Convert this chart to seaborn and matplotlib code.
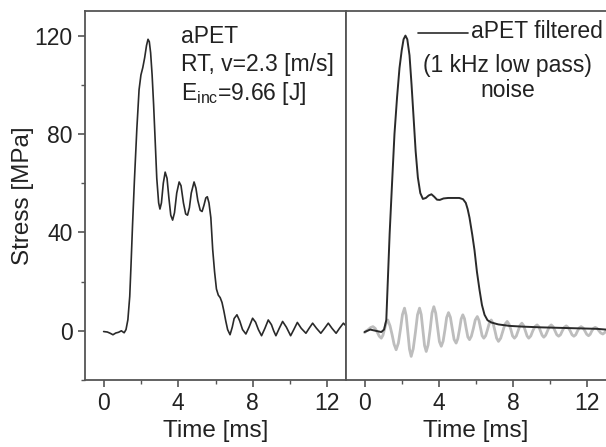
import matplotlib
matplotlib.use("Agg")
import matplotlib.pyplot as plt
import seaborn as sns
import pandas as pd
from matplotlib.ticker import MultipleLocator

# ---- data ----
t_raw = [0.0, 0.2, 0.35, 0.5, 0.65, 0.8, 0.95, 1.1, 1.2, 1.3, 1.4, 1.47, 1.55, 1.65, 1.78, 1.9, 2.0, 2.1,
         2.2, 2.3, 2.38, 2.45, 2.52, 2.6, 2.68, 2.76, 2.85, 2.95, 3.02, 3.1, 3.2, 3.3, 3.4, 3.5, 3.6, 3.7,
         3.8, 3.92, 4.05, 4.15, 4.28, 4.4, 4.5, 4.6, 4.7, 4.85, 4.95, 5.05, 5.18, 5.28, 5.38, 5.48, 5.56,
         5.65, 5.75, 5.85, 5.95, 6.05, 6.15, 6.25, 6.35, 6.45, 6.55, 6.65, 6.78, 6.9, 7.0, 7.15, 7.3, 7.45,
         7.63, 7.8, 7.99, 8.15, 8.3, 8.47, 8.65, 8.83, 9.0, 9.12, 9.24, 9.42, 9.6, 9.8, 10.03, 10.2, 10.39,
         10.6, 10.85, 11.02, 11.21, 11.42, 11.65, 11.85, 12.05, 12.25, 12.47, 12.65, 12.86, 13.0]
s_raw = [-0.3, -0.5, -1.0, -1.6, -0.9, -0.6, 0.0, -0.8, 0.5, 4.5, 14, 27, 43, 61, 82, 98, 104, 107,
         111, 116, 118.5, 117.5, 113, 104, 92, 78, 62, 52, 49.5, 52, 60, 64.5, 62, 54, 47, 45,
         48, 56, 60.5, 59, 52, 47.5, 47, 50, 56, 60.5, 58, 53, 49, 48.5, 51, 54, 54.5,
         52, 46, 33, 24, 17, 14.5, 13.5, 11.5, 8, 4, 0.5, -1.6, 1.5, 5, 6.5, 4, 0.5,
         -1.3, 1.5, 5.1, 3.5, 0.5, -2, 1, 4.4, 2.5, 0, -2, 1, 3.8, 1.5, -2, 0.5, 3.4,
         1.0, -1.0, 1, 3.1, 1, -1, 1, 3.1, 1, -1, 1, 3.1, 2]

t_filt = [0.0, 0.3, 0.6, 0.9, 1.05, 1.17, 1.25, 1.35, 1.48, 1.61, 1.75, 1.88, 2.0, 2.1, 2.2, 2.3, 2.42,
          2.53, 2.64, 2.75, 2.87, 3.0, 3.14, 3.3, 3.45, 3.6, 3.75, 3.9, 4.05, 4.25, 4.5, 4.8, 5.1, 5.3,
          5.45, 5.55, 5.65, 5.8, 5.92, 6.05, 6.19, 6.32, 6.46, 6.62, 6.82, 7.2, 7.8, 8.5, 9.5, 10.5,
          11.5, 12.5, 13.0]
s_filt = [-0.5, 0.5, 0.0, -0.5, 0.5, 4.4, 20, 39.5, 60, 80, 95, 106.8, 114, 118.5, 120, 118.5, 112,
          100, 86.6, 73, 62.3, 56, 53.6, 54, 55, 55.5, 54.5, 53.3, 53.2, 53.8, 54, 54, 54, 53.5,
          52, 49.5, 46, 39, 32.7, 24, 16.6, 10.5, 6.5, 4.3, 3.4, 2.6, 2.0, 1.7, 1.4, 1.2,
          1.0, 0.8, 0.5]

t_noise = [0.0, 0.1, 0.2, 0.32, 0.45, 0.57, 0.68, 0.79, 0.9, 0.99, 1.07, 1.16, 1.25, 1.37, 1.48, 1.59,
           1.7, 1.82, 1.93, 2.04, 2.15, 2.24, 2.33, 2.42, 2.51, 2.62, 2.74, 2.85, 2.96, 3.05, 3.14,
           3.23, 3.32, 3.42, 3.53, 3.63, 3.73, 3.83, 3.93, 4.03, 4.13, 4.23, 4.33, 4.42, 4.52, 4.62,
           4.72, 4.82, 4.93, 5.02, 5.11, 5.2, 5.29, 5.38, 5.47, 5.56, 5.65, 5.75, 5.86, 5.96, 6.07,
           6.16, 6.25, 6.33, 6.42, 6.52, 6.62, 6.72, 6.82, 6.92, 7.02, 7.11, 7.21, 7.33, 7.45, 7.56,
           7.68, 7.78, 7.88, 7.97, 8.07, 8.17, 8.27, 8.37, 8.47, 8.56, 8.66, 8.75, 8.84, 8.95, 9.06,
           9.17, 9.29, 9.38, 9.47, 9.56, 9.65, 9.75, 9.85, 9.95, 10.05, 10.15, 10.25, 10.35, 10.45,
           10.55, 10.65, 10.75, 10.86, 10.96, 11.07, 11.17, 11.27, 11.37, 11.47, 11.56, 11.66, 11.76,
           11.86, 11.96, 12.06, 12.15, 12.24, 12.33, 12.42, 12.52, 12.62, 12.72, 12.83, 12.92, 13.0]
s_noise = [-0.7, 0.0, 0.5, 1.3, 1.7, 1.0, -0.5, -2.2, -3, -1.8, 0.5, 3.2, 4.4, 2.0, -1.5, -5.5,
           -7.7, -5.0, 0.5, 6.6, 9.2, 6.2, -0.5, -7.5, -10.4, -7.3, -0.5, 6.5, 9.2, 6.6, 0.5,
           -6.0, -8.4, -5.8, 0.5, 7.2, 9.8, 7.2, 1.5, -4.4, -6.3, -4.2, 0.5, 5.4, 7.4, 5.5,
           1, -3.5, -5, -3.2, 0.5, 4.8, 6.5, 4.9, 1, -2.5, -3.6, -2.2, 1, 4.4, 5.8,
           4.2, 1, -2.0, -3, -2.0, 0.5, 3.2, 4.4, 3.0, 0, -3.0, -4.3, -3.0, 0, 2.7,
           3.8, 2.7, 0.4, -2.1, -3, -2.1, 0, 2.2, 3.1, 2.2, 0, -2.1, -3, -2.1, 0,
           1.7, 2.4, 1.7, 0, -1.8, -2.6, -1.8, 0, 1.7, 2.4, 1.7, 0, -1.6, -2.2,
           -1.6, 0, 1.4, 2.0, 1.4, 0, -1.6, -2.2, -1.6, 0, 1.2, 1.7, 1.2,
           0, -1.4, -2.0, -1.4, 0, 1.0, 1.4, 1.0, 0, -0.9, -1.3, -0.8, 0]

x_ticks = [0, 4, 8, 12]
y_ticks = [0, 40, 80, 120]

# ---- style ----
sns.set_style("ticks")
plt.rcParams["font.family"] = ["Liberation Sans", "DejaVu Sans"]
plt.rcParams["mathtext.fontset"] = "custom"
plt.rcParams["mathtext.rm"] = "Liberation Sans"
plt.rcParams["mathtext.it"] = "Liberation Sans"

W, H = 606, 447
fig = plt.figure(figsize=(W / 100, H / 100), dpi=100)
ax1 = fig.add_axes([85 / W, 67 / H, 261 / W, 369 / H])
ax2 = fig.add_axes([346 / W, 67 / H, 260 / W, 369 / H])

spine_c = "#555555"
line_c = "#2a2a2a"
txt_c = "#222222"

df_raw = pd.DataFrame({"t": t_raw, "s": s_raw})
df_filt = pd.DataFrame({"t": t_filt, "s": s_filt})
df_noise = pd.DataFrame({"t": t_noise, "s": s_noise})

sns.lineplot(data=df_raw, x="t", y="s", ax=ax1, color=line_c, linewidth=1.2, estimator=None, sort=False)
sns.lineplot(data=df_noise, x="t", y="s", ax=ax2, color="#bdbdbd", linewidth=2.0, estimator=None, sort=False)
sns.lineplot(data=df_filt, x="t", y="s", ax=ax2, color=line_c, linewidth=1.4, estimator=None, sort=False)

for ax in (ax1, ax2):
    ax.set_xlim(-1, 13)
    ax.set_ylim(-20, 130)
    ax.set_xticks(x_ticks)
    ax.xaxis.set_minor_locator(MultipleLocator(2))
    ax.tick_params(axis="both", which="major", direction="out", length=5, width=1.2,
                   color=spine_c, labelsize=16.5, pad=4, labelcolor=txt_c)
    ax.tick_params(axis="both", which="minor", direction="out", length=3, width=1.0, color=spine_c)
    for sp in ax.spines.values():
        sp.set_color(spine_c)
        sp.set_linewidth(1.3)
    ax.set_xlabel("Time [ms]", fontsize=17.5, color=txt_c, labelpad=3)

ax1.set_yticks(y_ticks)
ax1.yaxis.set_minor_locator(MultipleLocator(20))
ax1.set_ylabel("Stress [MPa]", fontsize=17.5, color=txt_c, labelpad=0)

ax2.set_yticks([])
ax2.yaxis.set_minor_locator(plt.NullLocator())
ax2.set_ylabel("")
ax2.spines["right"].set_visible(False)

# annotations (pixel coords -> figure fraction)
def ftext(x, y, s, **kw):
    fig.text(x / W, 1 - y / H, s, va="baseline", color=txt_c, **kw)

fs = 16.5
ftext(181, 43, "aPET", fontsize=fs)
ftext(181, 71, "RT, v=2.3 [m/s]", fontsize=fs)
ftext(181, 100, "E$_{\\mathrm{inc}}$=9.66 [J]", fontsize=fs)

fig.add_artist(plt.Line2D([418 / W, 468 / W], [1 - 33 / H, 1 - 33 / H], color=line_c, linewidth=1.2))
ftext(471, 38, "aPET filtered", fontsize=fs)
ftext(507, 72, "(1 kHz low pass)", fontsize=fs, ha="center")
ftext(508, 97, "noise", fontsize=fs, ha="center")

fig.savefig("out.png", dpi=100)
